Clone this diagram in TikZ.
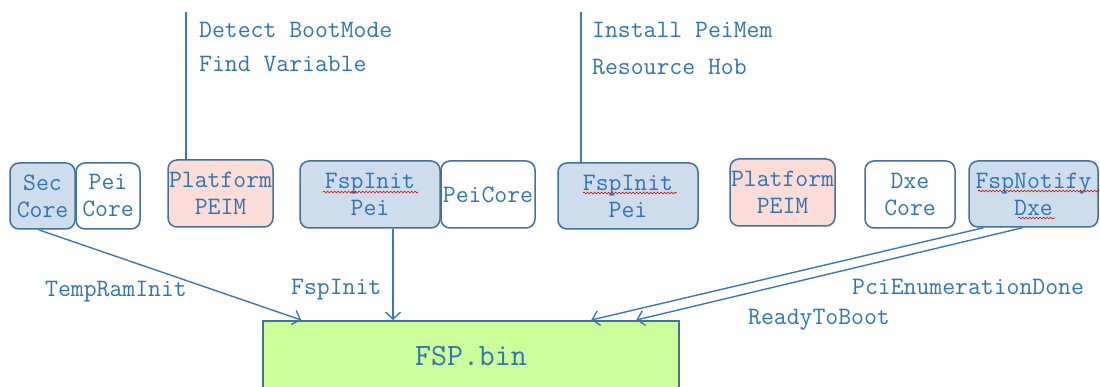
\documentclass[tikz,border=0pt]{standalone}
\usepackage{fontspec}
\usetikzlibrary{arrows.meta,calc,decorations.pathmorphing}
\definecolor{txt}{RGB}{46,117,182}
\definecolor{edge}{RGB}{65,113,156}
\definecolor{lnc}{RGB}{60,120,185}
\definecolor{bfill}{RGB}{206,221,235}
\definecolor{pfill}{RGB}{252,220,215}
\definecolor{gfill}{RGB}{204,255,153}
\tikzset{
  x=1pt, y=-1pt,
  lbl/.style={font=\ttfamily\fontsize{25}{27}\selectfont, text=txt, inner sep=0pt},
  box/.style={lbl, draw=edge, line width=1.5pt, rounded corners=9pt, align=center},
  bluebox/.style={box, fill=bfill},
  whitebox/.style={box, fill=white},
  pinkbox/.style={box, fill=pfill},
  conn/.style={draw=lnc, line width=1.4pt},
  arr/.style={conn, -{Straight Barb[length=7pt,width=15pt,line width=1.4pt]}},
  spell/.style={draw=red!85!black, line width=0.6pt, decorate, decoration={snake, amplitude=0.9pt, segment length=3.5pt}}
}
\begin{document}
\begin{tikzpicture}
\useasboundingbox (0,0) rectangle (1100,387);
\clip (0,0) rectangle (1100,387);
\fill[white] (0,0) rectangle (1100,387);

% boxes
\node[bluebox, minimum width=65pt, minimum height=66pt] (sec) at (42.5,196) {Sec\\Core};
\node[whitebox, minimum width=64pt, minimum height=66pt] (pei1) at (108,196) {Pei\\Core};
\node[pinkbox, minimum width=105pt, minimum height=67pt] (plat1) at (220.5,193.5) {Platform\\PEIM};
\node[bluebox, minimum width=140pt, minimum height=67pt] (fsp1) at (370,194.5) {FspInit\\Pei};
\node[whitebox, minimum width=94pt, minimum height=67pt] (pei2) at (488,194.5) {PeiCore};
\node[bluebox, minimum width=140pt, minimum height=66pt] (fsp2) at (628,196) {FspInit\\Pei};
\node[pinkbox, minimum width=105pt, minimum height=67pt] (plat2) at (782.5,192.5) {Platform\\PEIM};
\node[whitebox, minimum width=90pt, minimum height=67pt] (dxe) at (910,194.5) {Dxe\\Core};
\node[bluebox, minimum width=129pt, minimum height=66pt] (notify) at (1033.5,194) {FspNotify\\Dxe};

% FSP.bin
\node[lbl, draw=edge, line width=1.5pt, fill=gfill, font=\ttfamily\fontsize{31}{34}\selectfont,
      minimum width=416pt, minimum height=70pt, anchor=north] (bin) at (471,320) {FSP.bin};

% top notes
\coordinate (t1) at (186,12);
\coordinate (t2) at (581,12);
\draw[conn] (t1) -- (t1 |- plat1.north);
\draw[conn] (t2) -- (t2 |- fsp2.north);
\node[lbl, anchor=west] (n1) at (199,30) {Detect BootMode};
\node[lbl, anchor=west] (n2) at (199,64) {Find Variable};
\node[lbl, anchor=west] (n3) at (592,30) {Install PeiMem};
\node[lbl, anchor=west] (n4) at (592,67) {Resource Hob};

% arrows
\draw[arr] ($(sec.south)+(-4,0)$) -- ($(bin.north west)+(39,0)$);
\draw[arr] (fsp1.south -| 393,0) -- (bin.north -| 393,0);
\draw[arr] ($(notify.south)+(-50,0)$) -- ($(bin.north west)+(329,0)$);
\draw[arr] ($(notify.south)+(-11,0)$) -- ($(bin.north west)+(374,0)$);

% arrow labels
\node[lbl, anchor=west] (l1) at (45,292) {TempRamInit};
\node[lbl, anchor=west] (l2) at (291,290) {FspInit};
\node[lbl, anchor=west] (l3) at (852,287) {PciEnumerationDone};
\node[lbl, anchor=west] (l4) at (748,320) {ReadyToBoot};

% spelling marks
\draw[spell] (323,192) -- (418,192);
\draw[spell] (583,193) -- (677,193);
\draw[spell] (978,191) -- (1100,191);
\draw[spell] (1018,218) -- (1055,218);
\end{tikzpicture}
\end{document}
